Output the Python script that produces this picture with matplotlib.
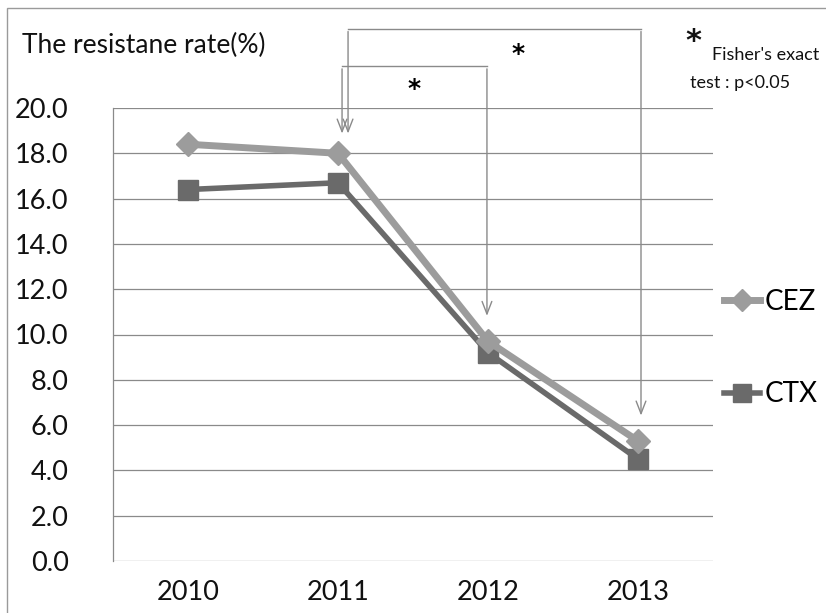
import numpy as np
import matplotlib
matplotlib.use("Agg")
import matplotlib.pyplot as plt
from matplotlib.patches import Rectangle

plt.rcParams['font.family'] = ['Lato', 'DejaVu Sans']

years = ['2010', '2011', '2012', '2013']
cez = [18.4, 18.0, 9.7, 5.3]
ctx = [16.4, 16.7, 9.2, 4.5]
y_ticks = np.arange(0, 21, 2)

fig = plt.figure(figsize=(8.26, 6.13), dpi=100)
ax = fig.add_axes([113 / 826, 1 - 561 / 613, 600 / 826, 453 / 613])

x = np.arange(len(years))
grid_c = '#8a8a8a'

ax.plot(x, cez, color='#9c9c9c', lw=5, marker='D', ms=12,
        mfc='#9c9c9c', mec='#9c9c9c', label='CEZ', zorder=4)
ax.plot(x, ctx, color='#6a6a6a', lw=4, marker='s', ms=15,
        mfc='#6a6a6a', mec='#6a6a6a', label='CTX', zorder=3)

ax.set_xlim(-0.5, 3.5)
ax.set_ylim(0, 20)
ax.set_xticks(x)
ax.set_xticklabels(years)
ax.set_yticks(y_ticks)
ax.set_yticklabels([f'{v:.1f}' for v in y_ticks])
ax.tick_params(axis='both', length=0, labelsize=19.5, colors='#111111')
ax.tick_params(axis='y', pad=32)
ax.tick_params(axis='x', pad=14)
ax.grid(axis='y', color=grid_c, lw=0.9)
ax.set_axisbelow(True)
for side in ['top', 'right', 'bottom']:
    ax.spines[side].set_visible(False)
ax.spines['left'].set_color(grid_c)
ax.spines['left'].set_linewidth(0.9)

# significance brackets
arr = dict(arrowstyle='->,head_length=0.9,head_width=0.35', color='#8a8a8a', lw=1)
line_kw = dict(color='#8a8a8a', lw=1, clip_on=False)
# inner: 2011 -> 2012
ax.plot([1.027, 1.993], [21.85, 21.85], **line_kw)
ax.annotate('', xy=(1.027, 18.75), xytext=(1.027, 21.85), arrowprops=arr,
            annotation_clip=False)
ax.annotate('', xy=(1.993, 10.7), xytext=(1.993, 21.85), arrowprops=arr,
            annotation_clip=False)
# outer: 2011 -> 2013
ax.plot([1.067, 3.02], [23.5, 23.5], **line_kw)
ax.annotate('', xy=(1.067, 18.75), xytext=(1.067, 23.5), arrowprops=arr,
            annotation_clip=False)
ax.annotate('', xy=(3.02, 6.3), xytext=(3.02, 23.5), arrowprops=arr,
            annotation_clip=False)
ax.text(1.51, 20.85, '*', fontsize=18, ha='center', va='center', clip_on=False,
        family='DejaVu Sans', fontweight='bold')
ax.text(2.2, 22.4, '*', fontsize=18, ha='center', va='center', clip_on=False,
        family='DejaVu Sans', fontweight='bold')

# title and note
fig.text(22 / 826, 1 - 45 / 613, 'The resistane rate(%)', fontsize=19,
         ha='left', va='center', color='#111111')
fig.text(693 / 826, 1 - 42 / 613, '*', fontsize=22, ha='center', va='center',
         family='DejaVu Sans', color='#111111', fontweight='bold')
fig.text(712 / 826, 1 - 55 / 613, "Fisher's exact", fontsize=13,
         ha='left', va='center', color='#111111')
fig.text(690 / 826, 1 - 83 / 613, 'test : p<0.05', fontsize=13,
         ha='left', va='center', color='#111111')

ax.legend(loc='center left', bbox_to_anchor=(724 / 826, 1 - 348 / 613),
          bbox_transform=fig.transFigure, frameon=False, fontsize=20,
          handlelength=1.3, handletextpad=0.15, labelspacing=2.4,
          borderaxespad=0, borderpad=0, markerscale=0.9)

fig.add_artist(Rectangle((7 / 826, -0.1), 1.0, 1 - 8 / 613 + 0.1, fill=False,
                         edgecolor='#9a9a9a', lw=1, transform=fig.transFigure))

fig.savefig('out.png', dpi=100)
